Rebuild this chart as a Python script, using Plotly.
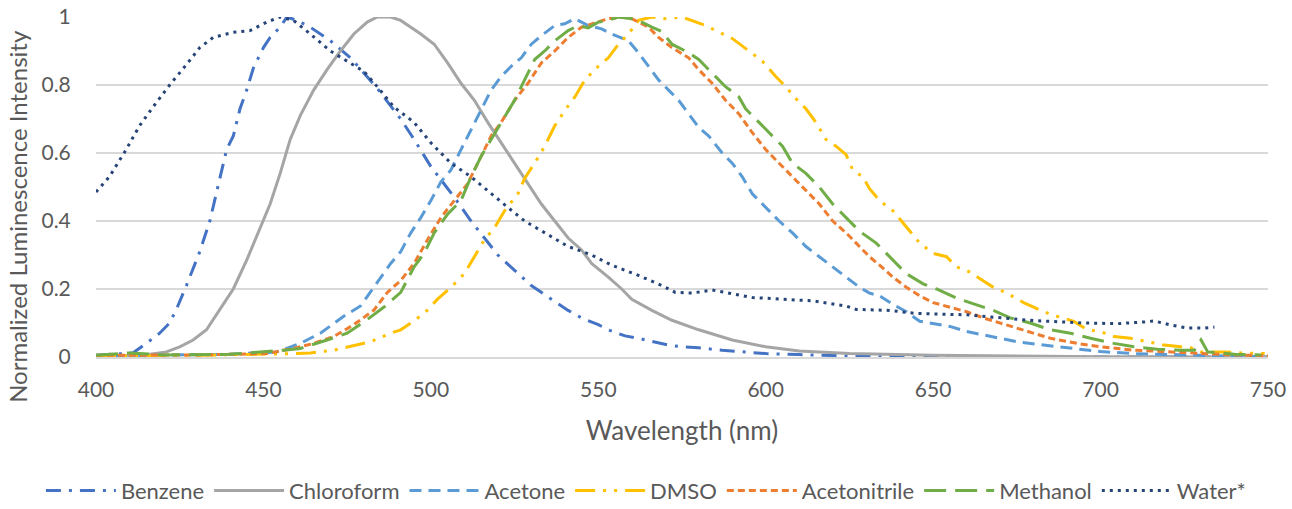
import plotly.graph_objects as go

# ---------------- data ----------------
benzene_x = [400, 404, 411, 415, 419, 422, 424, 427, 431, 434, 437, 439, 441, 443, 445, 447, 450, 452, 455, 457,
             460, 464, 470, 476, 484, 491, 495, 500, 507, 512, 516, 520, 525, 530, 536, 541, 545, 550, 553, 558,
             562, 567, 571, 575, 580, 587, 594, 600, 610, 620, 630, 640, 650, 700, 750]
benzene_y = [0.005, 0.008, 0.012, 0.04, 0.07, 0.10, 0.14, 0.21, 0.31, 0.40, 0.53, 0.61, 0.65, 0.73, 0.785, 0.85, 0.91, 0.94, 0.97, 1.0,
             0.99, 0.97, 0.93, 0.88, 0.79, 0.70, 0.64, 0.56, 0.47, 0.40, 0.35, 0.30, 0.255, 0.21, 0.17, 0.137, 0.115, 0.095, 0.08, 0.062,
             0.055, 0.045, 0.035, 0.03, 0.027, 0.02, 0.015, 0.01, 0.007, 0.004, 0.002, 0.001, 0.0, 0.0, 0.0]

chloroform_x = [400, 410, 414, 421, 425, 429, 433, 437, 441, 445, 449, 452, 455, 458, 461, 465, 469, 473, 477, 481,
                484, 488, 491, 497, 501, 505, 509, 513, 517, 521, 525, 529, 533, 537, 541, 545, 548, 553, 557, 560,
                566, 572, 580, 590, 600, 610, 625, 650, 700, 750]
chloroform_y = [0.002, 0.003, 0.005, 0.015, 0.03, 0.05, 0.08, 0.14, 0.20, 0.285, 0.38, 0.45, 0.54, 0.64, 0.71, 0.785, 0.845, 0.90, 0.95, 0.985,
                1.0, 1.0, 0.99, 0.95, 0.92, 0.865, 0.805, 0.755, 0.69, 0.63, 0.57, 0.51, 0.45, 0.40, 0.35, 0.315, 0.275, 0.235, 0.20, 0.17,
                0.137, 0.108, 0.08, 0.05, 0.03, 0.018, 0.01, 0.005, 0.001, 0.0]

acetone_x = [400, 420, 440, 454, 461, 467, 474, 479, 483, 488, 491, 494, 497, 500, 503, 506, 509, 512, 515, 518,
             521, 524, 527, 530, 533, 537, 540, 543, 547, 551, 554, 559, 562, 565, 568, 571, 574, 577, 580, 583,
             587, 590, 593, 596, 600, 604, 608, 612, 616, 620, 624, 628, 631, 634, 638, 642, 646, 651, 655, 660,
             667, 675, 683, 692, 700, 710, 720, 735, 750]
acetone_y = [0.003, 0.005, 0.008, 0.015, 0.04, 0.07, 0.12, 0.15, 0.205, 0.275, 0.31, 0.365, 0.41, 0.46, 0.515, 0.55, 0.61, 0.67, 0.73, 0.785,
             0.825, 0.855, 0.88, 0.92, 0.945, 0.975, 0.98, 0.995, 0.975, 0.965, 0.95, 0.93, 0.895, 0.855, 0.815, 0.785, 0.755, 0.715, 0.675, 0.65,
             0.60, 0.57, 0.53, 0.48, 0.44, 0.40, 0.365, 0.325, 0.295, 0.265, 0.235, 0.205, 0.188, 0.18, 0.155, 0.133, 0.105, 0.097, 0.09, 0.075,
             0.06, 0.045, 0.035, 0.026, 0.016, 0.01, 0.008, 0.003, 0.0]

dmso_x = [400, 430, 460, 464, 471, 478, 482, 488, 491, 494, 498, 502, 506, 510, 513, 516, 519, 522, 526, 528,
          531, 534, 537, 540, 543, 546, 550, 553, 556, 559, 562, 566, 570, 575, 582, 586, 590, 595, 599, 603,
          606, 609, 612, 615, 618, 621, 624, 626, 629, 631, 634, 638, 641, 643, 646, 650, 654, 657, 661, 664,
          668, 672, 677, 680, 683, 687, 692, 696, 700, 704, 709, 714, 719, 724, 727, 730, 737, 742, 749]
dmso_y = [0.003, 0.005, 0.01, 0.012, 0.02, 0.035, 0.045, 0.07, 0.08, 0.10, 0.128, 0.17, 0.205, 0.245, 0.295, 0.345, 0.38, 0.43, 0.48, 0.525,
          0.57, 0.62, 0.68, 0.725, 0.765, 0.815, 0.855, 0.88, 0.92, 0.95, 0.99, 1.0, 0.995, 1.0, 0.975, 0.957, 0.937, 0.90, 0.87, 0.825,
          0.795, 0.76, 0.73, 0.69, 0.64, 0.62, 0.595, 0.55, 0.53, 0.495, 0.46, 0.43, 0.395, 0.37, 0.335, 0.305, 0.295, 0.265, 0.25, 0.23,
          0.205, 0.188, 0.16, 0.147, 0.133, 0.12, 0.105, 0.08, 0.075, 0.06, 0.055, 0.045, 0.035, 0.03, 0.027, 0.015, 0.015, 0.012, 0.01]

acetonitrile_x = [400, 430, 451, 459, 465, 471, 477, 483, 487, 491, 495, 499, 503, 507, 511, 515, 518, 521, 525, 529,
                  533, 537, 541, 545, 548, 553, 557, 560, 565, 568, 572, 577, 580, 584, 588, 592, 596, 600, 604, 608,
                  612, 616, 620, 624, 628, 631, 634, 638, 642, 646, 650, 655, 660, 665, 670, 677, 685, 693, 700, 710,
                  720, 730, 740, 750]
acetonitrile_y = [0.005, 0.006, 0.01, 0.025, 0.04, 0.06, 0.095, 0.138, 0.19, 0.225, 0.275, 0.345, 0.41, 0.46, 0.51, 0.59, 0.65, 0.69, 0.755, 0.805,
                  0.865, 0.90, 0.94, 0.97, 0.98, 0.995, 1.0, 0.995, 0.97, 0.94, 0.91, 0.88, 0.845, 0.805, 0.755, 0.715, 0.66, 0.61, 0.57, 0.53,
                  0.49, 0.45, 0.40, 0.365, 0.325, 0.295, 0.27, 0.235, 0.205, 0.18, 0.16, 0.147, 0.133, 0.115, 0.10, 0.08, 0.055, 0.04, 0.03, 0.02,
                  0.015, 0.01, 0.006, 0.004]

methanol_x = [400, 410, 420, 440, 456, 461, 469, 475, 481, 486, 491, 495, 498, 501, 505, 509, 512, 515, 518, 521,
              525, 528, 531, 534, 537, 541, 544, 547, 550, 553, 556, 560, 562, 566, 569, 572, 577, 580, 584, 588,
              592, 594, 598, 601, 605, 608, 612, 616, 620, 624, 628, 633, 638, 642, 647, 651, 657, 663, 668, 673,
              679, 685, 691, 697, 704, 710, 717, 724, 728, 730, 732, 740, 748]
methanol_y = [0.005, 0.012, 0.006, 0.008, 0.02, 0.025, 0.05, 0.07, 0.11, 0.147, 0.19, 0.265, 0.305, 0.365, 0.42, 0.46, 0.53, 0.59, 0.64, 0.69,
              0.755, 0.815, 0.875, 0.90, 0.93, 0.96, 0.975, 0.968, 0.985, 0.99, 1.0, 0.995, 0.99, 0.97, 0.957, 0.92, 0.895, 0.875, 0.835, 0.795,
              0.765, 0.73, 0.69, 0.66, 0.62, 0.57, 0.54, 0.50, 0.45, 0.41, 0.37, 0.335, 0.285, 0.245, 0.215, 0.20, 0.173, 0.153, 0.137, 0.115,
              0.10, 0.08, 0.07, 0.055, 0.04, 0.03, 0.023, 0.02, 0.02, 0.05, 0.015, 0.008, 0.006]

water_x = [400, 404, 409, 413, 417, 422, 427, 431, 435, 441, 446, 451, 455, 459, 464, 470, 475, 480, 484, 489,
           491, 495, 500, 506, 512, 518, 523, 528, 534, 541, 548, 554, 562, 569, 573, 578, 584, 589, 596, 605,
           614, 624, 627, 637, 645, 660, 670, 680, 695, 705, 713, 716, 721, 726, 731, 734]
water_y = [0.485, 0.53, 0.61, 0.68, 0.735, 0.80, 0.86, 0.91, 0.94, 0.955, 0.96, 0.985, 1.0, 0.99, 0.95, 0.90, 0.87, 0.84, 0.795, 0.735,
           0.72, 0.69, 0.63, 0.57, 0.53, 0.48, 0.44, 0.40, 0.365, 0.325, 0.30, 0.27, 0.24, 0.21, 0.19, 0.188, 0.197, 0.188, 0.175, 0.17,
           0.165, 0.15, 0.14, 0.137, 0.128, 0.124, 0.115, 0.107, 0.10, 0.098, 0.103, 0.106, 0.094, 0.085, 0.085, 0.088]

x_ticks = [400, 450, 500, 550, 600, 650, 700, 750]
y_ticks = [0, 0.2, 0.4, 0.6, 0.8, 1]
y_tick_labels = ["0", "0.2", "0.4", "0.6", "0.8", "1"]
x_title = "Wavelength (nm)"
y_title = "Normalized Luminescence Intensity"

series = [
    ("Benzene", benzene_x, benzene_y, "#4472C4", "15px,8px,3px,8px"),
    ("Chloroform", chloroform_x, chloroform_y, "#A5A5A5", "solid"),
    ("Acetone", acetone_x, acetone_y, "#5B9BD5", "12px,7px"),
    ("DMSO", dmso_x, dmso_y, "#FFC000", "20px,8px,3px,8px,3px,8px"),
    ("Acetonitrile", acetonitrile_x, acetonitrile_y, "#ED7D31", "7px,4px"),
    ("Methanol", methanol_x, methanol_y, "#70AD47", "22px,9px"),
    ("Water*", water_x, water_y, "#264478", "3px,5px"),
]

FONT = "Lato, 'Open Sans', sans-serif"
TXT = "#595959"

fig = go.Figure()
for name, xs, ys, color, dash in series:
    fig.add_trace(go.Scatter(x=xs, y=ys, name=name, mode="lines",
                             line=dict(color=color, width=3, dash=dash)))

fig.update_layout(
    width=1292, height=509,
    margin=dict(l=96, r=24, t=17, b=152, autoexpand=False),
    paper_bgcolor="white", plot_bgcolor="white",
    font=dict(family=FONT, color=TXT, size=21),
    legend=dict(orientation="h", x=-0.047, xanchor="left", y=-0.455, yanchor="bottom",
                font=dict(size=22, color=TXT), itemwidth=70, traceorder="normal"),
    xaxis=dict(range=[400, 750], tickmode="array", tickvals=x_ticks, showgrid=False,
               showline=True, linecolor="#D9D9D9", linewidth=1.5, zeroline=False,
               ticks="outside", ticklen=13, tickcolor="rgba(0,0,0,0)", automargin=False,
               tickfont=dict(size=21, color=TXT),
               title=dict(text=x_title, font=dict(size=26, color=TXT), standoff=22)),
    yaxis=dict(range=[0, 1], tickmode="array", tickvals=y_ticks, ticktext=y_tick_labels,
               showgrid=True, gridcolor="#D9D9D9", gridwidth=1.5, zeroline=False, showline=False,
               ticks="outside", ticklen=20, tickcolor="rgba(0,0,0,0)", automargin=False,
               tickfont=dict(size=21, color=TXT)),
    annotations=[dict(text=y_title, xref="paper", yref="paper", x=-0.0666, y=0.415,
                      xanchor="center", yanchor="middle", textangle=-90, showarrow=False,
                      font=dict(size=24, color=TXT))],
)

fig.write_html("out.html")
